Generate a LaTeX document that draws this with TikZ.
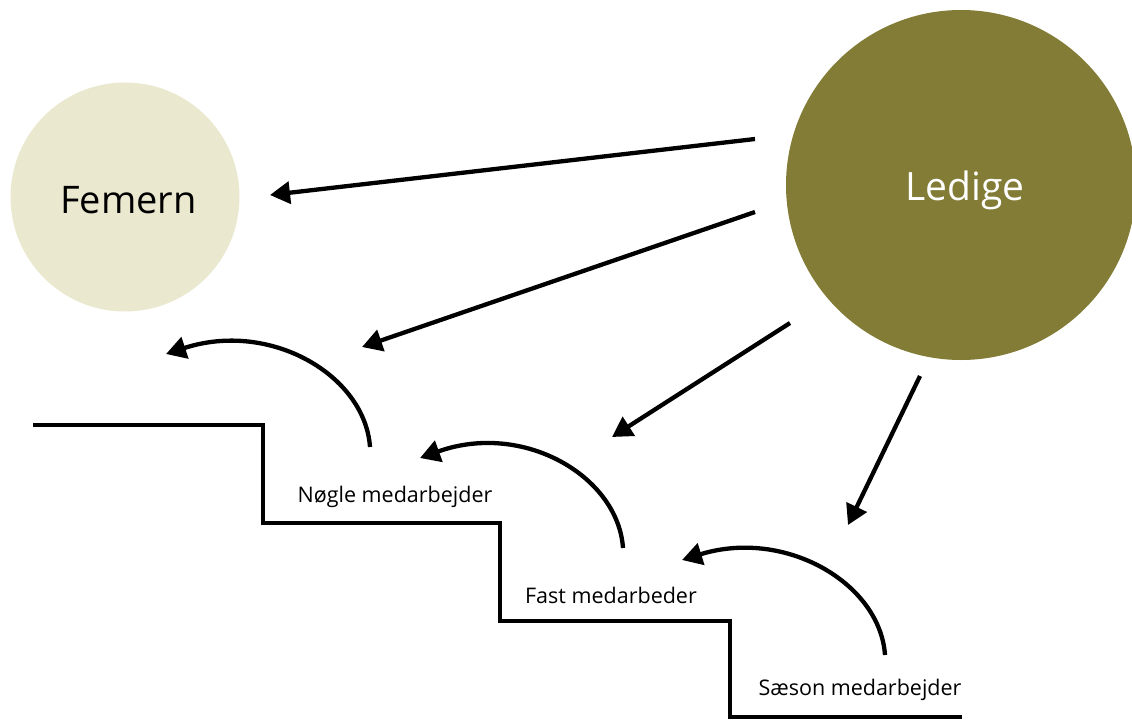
\documentclass[tikz,border=0pt]{standalone}
\usepackage{fontspec}
\setmainfont{Open Sans}
\usetikzlibrary{arrows.meta}
\definecolor{femern}{HTML}{EAE8CE}
\definecolor{ledige}{HTML}{827C36}
\begin{document}
\begin{tikzpicture}[x=1pt,y=-1pt,
  conn/.style={line width=4.3pt,-{Triangle[length=20pt,width=22pt]}},
  stair/.style={line width=4.3pt,line join=miter},
  lbl/.style={font=\fontsize{21.5}{25}\selectfont,inner sep=0pt},
  bubble/.style={circle,inner sep=0pt,draw=none}]
\useasboundingbox (0,0) rectangle (1132,720);
\node[bubble,fill=femern,minimum size=229pt,font=\fontsize{38}{44}\selectfont] (fem) at (125,197) {\hspace{7pt}\raisebox{-16pt}[0pt][0pt]{Femern}};
\node[bubble,fill=ledige,minimum size=350pt,text=white,font=\fontsize{39}{45}\selectfont] (led) at (961,185) {\hspace{8pt}\raisebox{-15pt}[0pt][0pt]{Ledige}};
\draw[stair] (33,425) -- (263,425) -- (263,523) -- (500,523) -- (500,621) -- (730,621) -- (730,717) -- (962,717);
\node[lbl] (n1) at (395,497) {Nøgle medarbejder};
\node[lbl] (n2) at (611,595) {Fast medarbeder};
\node[lbl] (n3) at (860,690) {Sæson medarbejder};
% straight arrow endpoints
\coordinate (s1) at (755,139); \coordinate (t1) at (270,195);
\coordinate (s2) at (755,212); \coordinate (t2) at (362,347);
\coordinate (s3) at (790,323); \coordinate (t3) at (612,437);
\coordinate (s4) at (920,376); \coordinate (t4) at (848,525);
\draw[conn] (s1) -- (t1);
\draw[conn] (s2) -- (t2);
\draw[conn] (s3) -- (t3);
\draw[conn] (s4) -- (t4);
% curved arrows
\coordinate (a1) at (370,447); \coordinate (b1) at (166,354);
\coordinate (a2) at (623,548); \coordinate (b2) at (420,458);
\coordinate (a3) at (885,655); \coordinate (b3) at (682,560);
\draw[conn] (a1) .. controls (365,375) and (270,320) .. (b1);
\draw[conn] (a2) .. controls (618,476) and (523,421) .. (b2);
\draw[conn] (a3) .. controls (880,583) and (785,528) .. (b3);
\end{tikzpicture}
\end{document}
